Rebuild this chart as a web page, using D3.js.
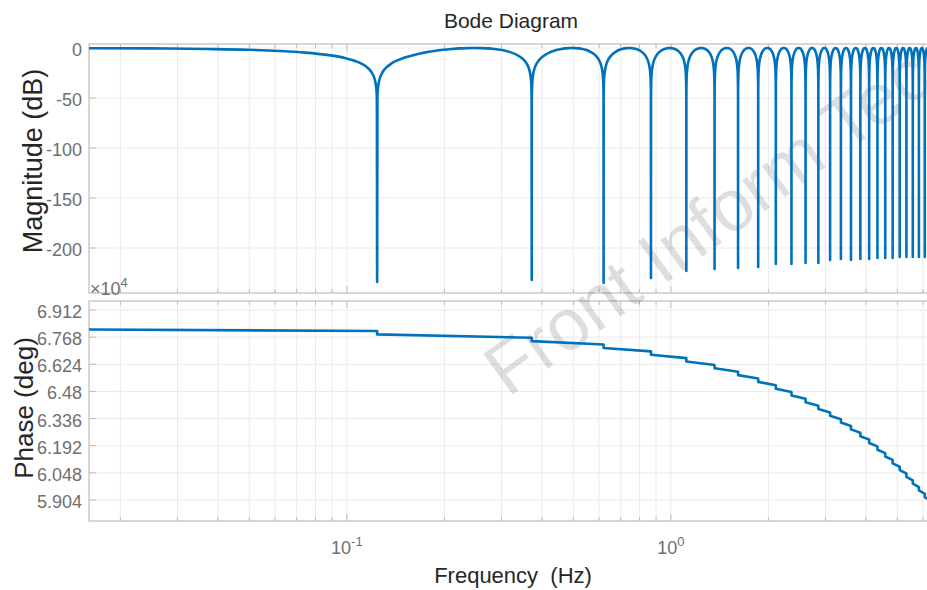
<!DOCTYPE html>
<html>
<head>
<meta charset="utf-8">
<script src="https://cdn.jsdelivr.net/npm/d3@7"></script>
<style>
  body { margin: 0; background: #fff; }
  text { font-family: "Liberation Sans", Arial, sans-serif; }
</style>
</head>
<body>
<div id="chart"></div>
<script>
// notch frequencies (Hz) and how deep each notch goes (dB)
var notchFreqs = [0.124, 0.372, 0.620, 0.868, 1.116, 1.364, 1.612, 1.860, 2.108, 2.356,
                  2.604, 2.852, 3.100, 3.348, 3.596, 3.844, 4.092, 4.340, 4.588, 4.836,
                  5.084, 5.332, 5.580, 5.828, 6.076, 6.324];
var notchDepths = [-234, -232, -235, -230, -223, -221, -220, -219, -216, -216,
                   -215, -215, -212, -211, -212, -211, -211, -210, -210, -210,
                   -209, -209, -209, -209, -209, -209];
var notchSpacing = 0.248;

// shape of one arch: offset from the notch (fraction of spacing) -> level (dB)
var archOffsets = [0.001, 0.002, 0.005, 0.01, 0.02, 0.03, 0.05, 0.07, 0.1, 0.15, 0.2, 0.25, 0.3, 0.35, 0.4, 0.45, 0.5];
var archLevels  = [-50, -44, -36, -30, -24, -20.5, -16.1, -13.2, -10.2, -6.9, -4.6, -3.0, -1.8, -1.0, -0.4, -0.1, 0];

// phase (deg) just before and just after each notch step
var phaseBefore = [68006, 67646, 67286, 66926, 66566, 66206, 65846, 65486, 65126, 64766,
                   64406, 64046, 63686, 63326, 62966, 62606, 62246, 61886, 61526, 61166,
                   60806, 60446, 60086, 59726, 59366, 59006];
var phaseAfter  = [67826, 67466, 67106, 66746, 66386, 66026, 65666, 65306, 64946, 64586,
                   64226, 63866, 63506, 63146, 62786, 62426, 62066, 61706, 61346, 60986,
                   60626, 60266, 59906, 59546, 59186, 58826];
var phaseStart = [0.016, 68084];
var phaseEnd = [6.77, 58501];

var magTicks = [0, -50, -100, -150, -200];
var phaseTicks = [59040, 60480, 61920, 63360, 64800, 66240, 67680, 69120];
var phaseTickLabels = ["5.904", "6.048", "6.192", "6.336", "6.48", "6.624", "6.768", "6.912"];
var freqTicks = [0.1, 1];
var freqTickExp = ["-1", "0"];

var W = 927, H = 590,
    left = 89, right = 940,
    magTop = 44, magBottom = 293,
    phTop = 301, phBottom = 521,
    blue = "#0072bd", frameColor = "#bdbdbd", gridColor = "#ebebeb", tickText = "#6f6f6f";

var svg = d3.select("#chart").append("svg")
    .attr("width", W)
    .attr("height", H);

var x = d3.scaleLog().domain([0.016, 6.77]).range([left, right]);
var yMag = d3.scaleLinear().domain([4, -245]).range([magTop, magBottom]);
var yPh = d3.scaleLinear().domain([69597, 57926]).range([phTop, phBottom]);

// magnitude points built from the notch table and arch shape
var magPoints = [];
notchFreqs.forEach(function(fn, i) {
    for (var j = archOffsets.length - 1; j >= 0; j--) {
        magPoints.push([fn - archOffsets[j] * notchSpacing, archLevels[j]]);
    }
    magPoints.push([fn, notchDepths[i]]);
    for (j = 0; j < archOffsets.length - 1; j++) {
        magPoints.push([fn + archOffsets[j] * notchSpacing, archLevels[j]]);
    }
});
magPoints = magPoints.filter(function(d) { return d[0] > 0; });

var phasePoints = [phaseStart];
notchFreqs.forEach(function(fn, i) {
    phasePoints.push([fn, phaseBefore[i]], [fn, phaseAfter[i]]);
});
phasePoints.push(phaseEnd);

var defs = svg.append("defs");
defs.append("clipPath").attr("id", "clipMag").append("rect")
    .attr("x", left).attr("y", magTop).attr("width", right - left).attr("height", magBottom - magTop);
defs.append("clipPath").attr("id", "clipPh").append("rect")
    .attr("x", left).attr("y", phTop).attr("width", right - left).attr("height", phBottom - phTop);
defs.append("clipPath").attr("id", "clipAll").append("rect")
    .attr("x", 0).attr("y", 0).attr("width", W).attr("height", H);

function drawPanel(top, bottom, y, ticks) {
    var g = svg.append("g");
    var fTicks = x.ticks();

    // grid
    g.selectAll(".vgrid").data(fTicks).enter().append("line")
        .attr("x1", function(d) { return x(d); })
        .attr("x2", function(d) { return x(d); })
        .attr("y1", top).attr("y2", bottom)
        .attr("stroke", gridColor).attr("stroke-width", 1);
    g.selectAll(".hgrid").data(ticks).enter().append("line")
        .attr("x1", left).attr("x2", right)
        .attr("y1", function(d) { return y(d); })
        .attr("y2", function(d) { return y(d); })
        .attr("stroke", gridColor).attr("stroke-width", 1);

    // frame
    g.append("rect")
        .attr("x", left).attr("y", top)
        .attr("width", right - left).attr("height", bottom - top)
        .attr("fill", "none").attr("stroke", frameColor).attr("stroke-width", 1.2);

    // x ticks inside, top and bottom
    fTicks.forEach(function(d) {
        var major = Math.abs(Math.log10(d) - Math.round(Math.log10(d))) < 1e-6;
        var len = major ? 7 : 4;
        g.append("line").attr("x1", x(d)).attr("x2", x(d))
            .attr("y1", bottom).attr("y2", bottom - len)
            .attr("stroke", frameColor);
        g.append("line").attr("x1", x(d)).attr("x2", x(d))
            .attr("y1", top).attr("y2", top + len)
            .attr("stroke", frameColor);
    });

    // y ticks inside
    g.selectAll(".ytick").data(ticks).enter().append("line")
        .attr("x1", left).attr("x2", left + 7)
        .attr("y1", function(d) { return y(d); })
        .attr("y2", function(d) { return y(d); })
        .attr("stroke", frameColor);
    return g;
}

drawPanel(magTop, magBottom, yMag, magTicks);
drawPanel(phTop, phBottom, yPh, phaseTicks);

// watermark, runs off the right edge like in the source
svg.append("g").attr("clip-path", "url(#clipAll)")
  .append("text")
    .attr("transform", "translate(508,398) rotate(-36)")
    .attr("font-size", 73)
    .attr("fill", "#000")
    .attr("fill-opacity", 0.13)
    .text("Front Inform Tec");

// curves
svg.append("path")
    .datum(magPoints)
    .attr("clip-path", "url(#clipMag)")
    .attr("fill", "none")
    .attr("stroke", blue)
    .attr("stroke-width", 2.6)
    .attr("stroke-linejoin", "round")
    .attr("d", d3.line()
        .x(function(d) { return x(d[0]); })
        .y(function(d) { return yMag(d[1]); })
        .curve(d3.curveMonotoneX));

svg.append("path")
    .datum(phasePoints)
    .attr("clip-path", "url(#clipPh)")
    .attr("fill", "none")
    .attr("stroke", blue)
    .attr("stroke-width", 2.6)
    .attr("stroke-linejoin", "round")
    .attr("d", d3.line()
        .x(function(d) { return x(d[0]); })
        .y(function(d) { return yPh(d[1]); }));

// y tick labels
svg.selectAll(".magLabel").data(magTicks).enter().append("text")
    .attr("x", 82).attr("y", function(d) { return yMag(d) + 8; })
    .attr("text-anchor", "end").attr("font-size", 18).attr("fill", tickText)
    .text(function(d) { return d; });

svg.selectAll(".phLabel").data(phaseTicks).enter().append("text")
    .attr("x", 82).attr("y", function(d) { return yPh(d) + 8; })
    .attr("text-anchor", "end").attr("font-size", 18).attr("fill", tickText)
    .text(function(d, i) { return phaseTickLabels[i]; });

// x tick labels, 10^n
freqTicks.forEach(function(d, i) {
    var t = svg.append("text")
        .attr("x", x(d)).attr("y", 554)
        .attr("text-anchor", "middle").attr("font-size", 18).attr("fill", tickText);
    t.append("tspan").text("10");
    t.append("tspan").attr("dy", -8).attr("font-size", 13).text(freqTickExp[i]);
});

// exponent marker
var ex = svg.append("text")
    .attr("x", 90).attr("y", 295)
    .attr("font-size", 18).attr("fill", tickText);
ex.append("tspan").text("\u00d710");
ex.append("tspan").attr("dy", -8).attr("font-size", 13).text("4");

// titles
svg.append("text")
    .attr("x", 511).attr("y", 28)
    .attr("text-anchor", "middle").attr("font-size", 21).attr("fill", "#262626")
    .text("Bode Diagram");

svg.append("text")
    .attr("transform", "translate(42,161) rotate(-90)")
    .attr("text-anchor", "middle").attr("font-size", 27).attr("fill", "#262626")
    .text("Magnitude (dB)");

svg.append("text")
    .attr("transform", "translate(33,408) rotate(-90)")
    .attr("text-anchor", "middle").attr("font-size", 26).attr("fill", "#262626")
    .text("Phase (deg)");

svg.append("text")
    .attr("x", 513).attr("y", 583)
    .attr("text-anchor", "middle").attr("font-size", 22).attr("fill", "#262626")
    .style("white-space", "pre")
    .text("Frequency  (Hz)");
</script>
</body>
</html>
